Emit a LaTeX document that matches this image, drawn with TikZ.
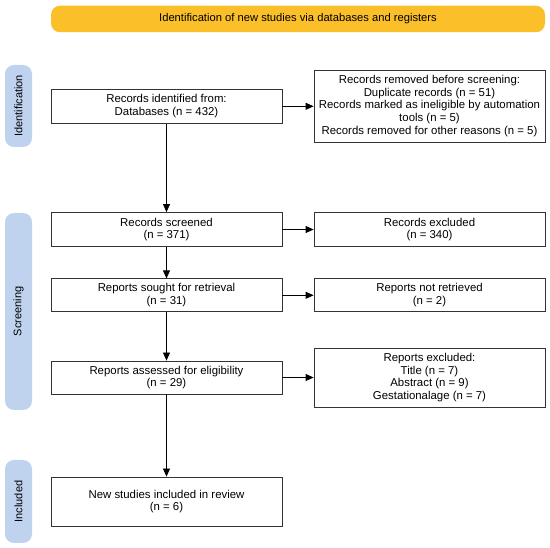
\documentclass[tikz,border=0pt]{standalone}
\usepackage{fontspec}
\setmainfont{Liberation Sans}
\usetikzlibrary{arrows.meta}
\definecolor{bannercol}{HTML}{FBBF2A}
\definecolor{sidecol}{HTML}{BFD3EF}
\tikzset{
  box/.style={draw=black!80, line width=0.8pt, fill=white, minimum width=231pt, align=center, inner sep=2pt, font=\fontsize{11.4}{12.8}\selectfont},
  side/.style={fill=sidecol, rounded corners=9pt, minimum width=27pt, inner sep=0pt, font=\fontsize{11}{12}\selectfont},
  arr/.style={-{Triangle[length=8pt,width=7pt]}, line width=0.8pt, black}
}
\begin{document}
\begin{tikzpicture}[x=1pt,y=-1pt]
\useasboundingbox (0,0) rectangle (550,548);
\node[fill=bannercol, rounded corners=9pt, minimum width=494pt, minimum height=26.5pt, inner sep=0pt, font=\fontsize{11.2}{12}\selectfont] (banner) at (298,19) {Identification of new studies via databases and registers};
\node[side, minimum height=82pt] (sid) at (18.5,106) {\rotatebox{90}{Identification}};
\node[side, minimum height=197pt] (sscr) at (18.5,311.5) {\rotatebox{90}{Screening}};
\node[side, minimum height=83pt] (sinc) at (18.5,501.5) {\rotatebox{90}{Included}};

\node[box, minimum height=34pt] (ident) at (166.5,106.3) {Records identified from:\\Databases (n = 432)};
\node[box, minimum height=72pt] (removed) at (429.5,106) {Records removed before screening:\\Duplicate records (n = 51)\\Records marked as ineligible by automation\\tools (n = 5)\\Records removed for other reasons (n = 5)};
\node[box, minimum height=34pt] (screened) at (166.5,229.5) {Records screened\\(n = 371)};
\node[box, minimum height=34pt] (excluded) at (429.5,229.5) {Records excluded\\(n = 340)};
\node[box, minimum height=33pt] (sought) at (166.5,295.3) {Reports sought for retrieval\\(n = 31)};
\node[box, minimum height=33pt] (notret) at (429.5,295.3) {Reports not retrieved\\(n = 2)};
\node[box, minimum height=33pt] (assessed) at (166.5,377.5) {Reports assessed for eligibility\\(n = 29)};
\node[box, minimum height=59pt] (repexcl) at (429.5,377.5) {Reports excluded:\\Title (n = 7)\\Abstract (n = 9)\\Gestationalage (n = 7)};
\node[box, minimum height=49pt] (included) at (166.5,501.5) {New studies included in review\\(n = 6)};

\draw[arr] (ident.east) -- (ident.east -| removed.west);
\draw[arr] (ident) -- (screened);
\draw[arr] (screened) -- (excluded);
\draw[arr] (screened) -- (sought);
\draw[arr] (sought) -- (notret);
\draw[arr] (sought) -- (assessed);
\draw[arr] (assessed) -- (repexcl);
\draw[arr] (assessed) -- (included);
\end{tikzpicture}
\end{document}
